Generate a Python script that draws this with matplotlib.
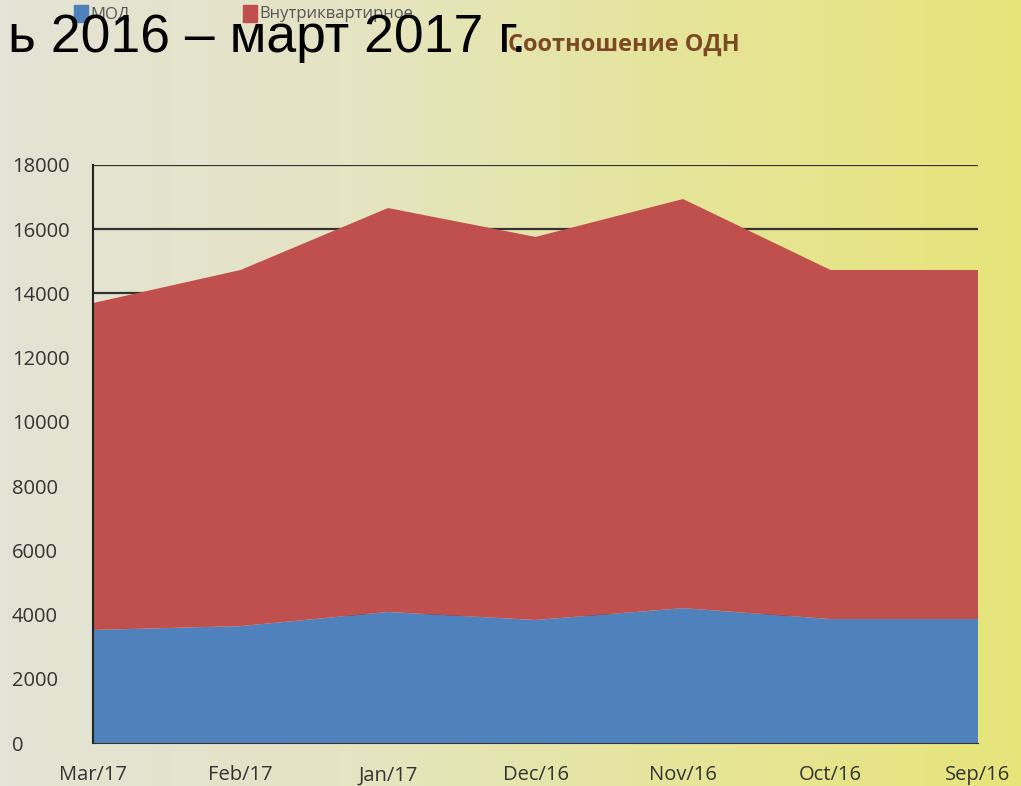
import numpy as np
import matplotlib
matplotlib.use("Agg")
import matplotlib.pyplot as plt
from matplotlib.colors import LinearSegmentedColormap

# Соотношение ОДН: МОД и внутриквартирное, по месяцам
months = ["Mar/17", "Feb/17", "Jan/17", "Dec/16", "Nov/16", "Oct/16", "Sep/16"]
mod = [3520, 3640, 4080, 3830, 4200, 3860, 3860]
vnutr = [10180, 11090, 12580, 11930, 12740, 10870, 10870]

c_mod = "#4f81bd"
c_vnutr = "#c0504d"

plt.rcParams["font.family"] = ["Open Sans", "DejaVu Sans"]

fig = plt.figure(figsize=(10.21, 7.86), dpi=100)

# фон слайда: градиент от серо-бежевого к жёлтому
bg = fig.add_axes([0, 0, 1, 1], zorder=-10)
cmap = LinearSegmentedColormap.from_list("slide", ["#e3e3d6", "#e5e4c4", "#e6e49a", "#e7e57a"])
grad = np.linspace(0, 1, 256).reshape(1, -1)
bg.imshow(grad, aspect="auto", cmap=cmap, extent=[0, 1, 0, 1])
bg.set_axis_off()

ax = fig.add_axes([0.0911, 0.0547, 0.8668, 0.7354])
ax.patch.set_alpha(0)
x = np.arange(len(months))
ax.stackplot(x, mod, vnutr, colors=[c_mod, c_vnutr], zorder=2)

ax.set_xlim(0, len(months) - 1)
ax.set_ylim(0, 18000)
ax.set_yticks(np.arange(0, 18001, 2000))
ax.set_xticks(x)
ax.set_xticklabels(months)
ax.yaxis.grid(True, color="#333333", linewidth=1.6, zorder=1)
ax.set_axisbelow(True)
for s in ["top", "right"]:
    ax.spines[s].set_visible(False)
ax.spines["left"].set_color("#222222")
ax.spines["bottom"].set_color("#333333")
ax.spines["left"].set_linewidth(1.5)
ax.tick_params(axis="both", length=0, labelsize=14.5, labelcolor="#333333")
ax.tick_params(axis="x", pad=16)
for lbl in ax.get_yticklabels():
    lbl.set_horizontalalignment("left")
    lbl.set_x(-(93 - 12) / 1021 / 0.8668)
    lbl.set_transform(ax.get_yaxis_transform())

# легенда (частично перекрыта заголовком)
fig.patches.append(plt.Rectangle((74 / 1021, 1 - 22 / 786), 14 / 1021, 17 / 786,
                                 transform=fig.transFigure, color=c_mod, zorder=3))
fig.text(90 / 1021, 1 - 14 / 786, "МОД", fontsize=12, color="#555555", va="center")
fig.patches.append(plt.Rectangle((243 / 1021, 1 - 22 / 786), 14 / 1021, 17 / 786,
                                 transform=fig.transFigure, color=c_vnutr, zorder=3))
fig.text(259 / 1021, 1 - 14 / 786, "Внутриквартирное", fontsize=12, color="#555555", va="center")

fig.text(508 / 1021, 1 - 45 / 786, "Соотношение ОДН", fontsize=17, fontweight="bold",
         color="#7b4a22", va="center")

# заголовок слайда, обрезанный слева
fig.text(526 / 1021, 1 - 38 / 786, "ь 2016 – март 2017 г.", fontsize=38.5,
         family=["Liberation Sans", "DejaVu Sans"], color="black",
         ha="right", va="center", zorder=5)

fig.savefig("out.png", dpi=100)
